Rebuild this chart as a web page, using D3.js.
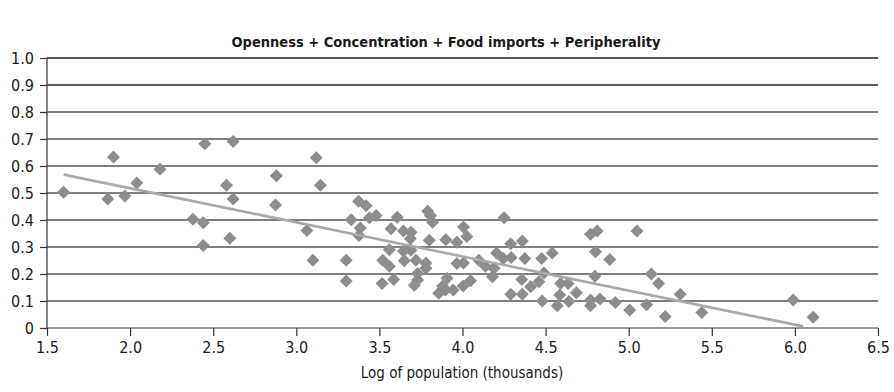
<!DOCTYPE html>
<html>
<head>
<meta charset="utf-8">
<script src="https://cdn.jsdelivr.net/npm/d3@7"></script>
<style>
  body { margin: 0; background: #fff; }
  svg text { font-family: "Liberation Sans Narrow", "DejaVu Sans Condensed", "Roboto", sans-serif; fill: #1a1a1a; }
</style>
</head>
<body>
<div id="chart"></div>
<script>
// log of population (thousands)
const popLog = [
  1.60, 1.90, 1.866, 1.968, 2.04, 2.18, 2.378, 2.44, 2.45, 2.44,
  2.58, 2.62, 2.62, 2.60, 2.88, 2.875, 3.12, 3.145, 3.064, 3.10,
  3.30, 3.30, 3.375, 3.42, 3.33, 3.385, 3.377, 3.44, 3.48, 3.607,
  3.57, 3.645, 3.69, 3.686, 3.79, 3.807, 3.82, 3.80, 3.90, 3.966,
  4.006, 4.026, 3.56, 3.52, 3.56, 3.645, 3.65, 3.69, 3.72, 3.78,
  3.78, 3.73, 3.73, 3.71, 3.586, 3.516, 3.857, 3.897, 3.944, 3.907,
  3.88, 4.004, 4.048, 3.966, 4.006, 4.098, 4.138, 4.25, 4.29, 4.36,
  4.205, 4.245, 4.293, 4.375, 4.19, 4.18, 4.476, 4.54, 4.49, 4.357,
  4.41, 4.46, 4.29, 4.36, 4.48, 4.57, 4.59, 4.635, 4.585, 4.64,
  4.685, 4.77, 4.81, 4.80, 4.886, 4.797, 4.77, 4.77, 4.827, 4.92,
  5.006, 5.05, 5.108, 5.136, 5.18, 5.22, 5.31, 5.44, 5.99, 6.11
];
// combined index value
const index = [
  0.503, 0.633, 0.478, 0.489, 0.537, 0.588, 0.403, 0.390, 0.682, 0.306,
  0.529, 0.691, 0.478, 0.332, 0.564, 0.456, 0.631, 0.529, 0.361, 0.251,
  0.251, 0.174, 0.469, 0.453, 0.401, 0.370, 0.343, 0.408, 0.417, 0.410,
  0.368, 0.359, 0.355, 0.331, 0.432, 0.417, 0.392, 0.325, 0.327, 0.318,
  0.374, 0.339, 0.290, 0.251, 0.229, 0.285, 0.249, 0.288, 0.251, 0.241,
  0.221, 0.202, 0.178, 0.158, 0.180, 0.165, 0.129, 0.141, 0.141, 0.184,
  0.155, 0.156, 0.175, 0.239, 0.241, 0.251, 0.229, 0.408, 0.312, 0.322,
  0.278, 0.257, 0.261, 0.257, 0.221, 0.190, 0.257, 0.278, 0.204, 0.180,
  0.153, 0.171, 0.125, 0.125, 0.100, 0.082, 0.165, 0.165, 0.122, 0.098,
  0.131, 0.347, 0.359, 0.282, 0.254, 0.192, 0.104, 0.082, 0.107, 0.094,
  0.067, 0.359, 0.086, 0.200, 0.165, 0.043, 0.125, 0.057, 0.104, 0.040
];
// fitted trend line end points
const trendX = [1.60, 6.05];
const trendY = [0.568, 0.006];

const xTicks = [1.5, 2.0, 2.5, 3.0, 3.5, 4.0, 4.5, 5.0, 5.5, 6.0, 6.5];
const yTicks = [0, 0.1, 0.2, 0.3, 0.4, 0.5, 0.6, 0.7, 0.8, 0.9, 1.0];

const W = 894, H = 392;
const m = { left: 47, right: 878, top: 58, bottom: 328 };

const svg = d3.select('#chart').append('svg')
  .attr('width', W).attr('height', H);

const x = d3.scaleLinear().domain([1.5, 6.5]).range([m.left, m.right]);
const y = d3.scaleLinear().domain([0, 1]).range([m.bottom, m.top]);

// gridlines
svg.append('g')
  .selectAll('line')
  .data(yTicks.slice(1))
  .join('line')
  .attr('x1', m.left).attr('x2', m.right)
  .attr('y1', d => y(d)).attr('y2', d => y(d))
  .attr('stroke', d => d >= 0.9 ? '#222' : '#555')
  .attr('stroke-width', 1.3);

// y axis
const yAxis = svg.append('g')
  .attr('transform', `translate(${m.left},0)`)
  .call(d3.axisLeft(y).tickValues(yTicks)
    .tickFormat(d => d === 0 ? '0' : d3.format('.1f')(d))
    .tickSize(7).tickPadding(6));
yAxis.select('.domain').attr('stroke', '#333').attr('stroke-width', 1.2).attr('d', `M0,${m.bottom}V${m.top}`);
yAxis.selectAll('.tick line').attr('stroke', '#333').attr('stroke-width', 1.2);
yAxis.selectAll('text').style('font-size', '16px').attr('fill', '#1a1a1a');

// x axis
const xAxis = svg.append('g')
  .attr('transform', `translate(0,${m.bottom})`)
  .call(d3.axisBottom(x).tickValues(xTicks)
    .tickFormat(d3.format('.1f'))
    .tickSize(8).tickPadding(6));
xAxis.select('.domain').attr('stroke', '#333').attr('stroke-width', 1.2).attr('d', `M${m.left},0H${m.right}`);
xAxis.selectAll('.tick line').attr('stroke', '#333').attr('stroke-width', 1.2);
xAxis.selectAll('text').style('font-size', '16px').attr('fill', '#1a1a1a');

// points
const pts = popLog.map((v, i) => ({ x: v, y: index[i] }));
const r = 6.5;
svg.append('g')
  .selectAll('path')
  .data(pts)
  .join('path')
  .attr('d', `M0,${-r}L${r},0L0,${r}L${-r},0Z`)
  .attr('transform', d => `translate(${x(d.x)},${y(d.y)})`)
  .attr('fill', '#8d8d8f');

// trend line
svg.append('path')
  .datum(trendX.map((v, i) => [v, trendY[i]]))
  .attr('d', d3.line().x(d => x(d[0])).y(d => y(d[1])))
  .attr('fill', 'none')
  .attr('stroke', '#a9a9a9')
  .attr('stroke-width', 2.6);

// title
svg.append('text')
  .attr('x', 446).attr('y', 47)
  .attr('text-anchor', 'middle')
  .style('font-size', '14.5px')
  .style('font-weight', 'bold')
  .text('Openness + Concentration + Food imports + Peripherality');

// axis title
svg.append('text')
  .attr('x', 462).attr('y', 378)
  .attr('text-anchor', 'middle')
  .style('font-size', '15px')
  .text('Log of population (thousands)');
</script>
</body>
</html>
